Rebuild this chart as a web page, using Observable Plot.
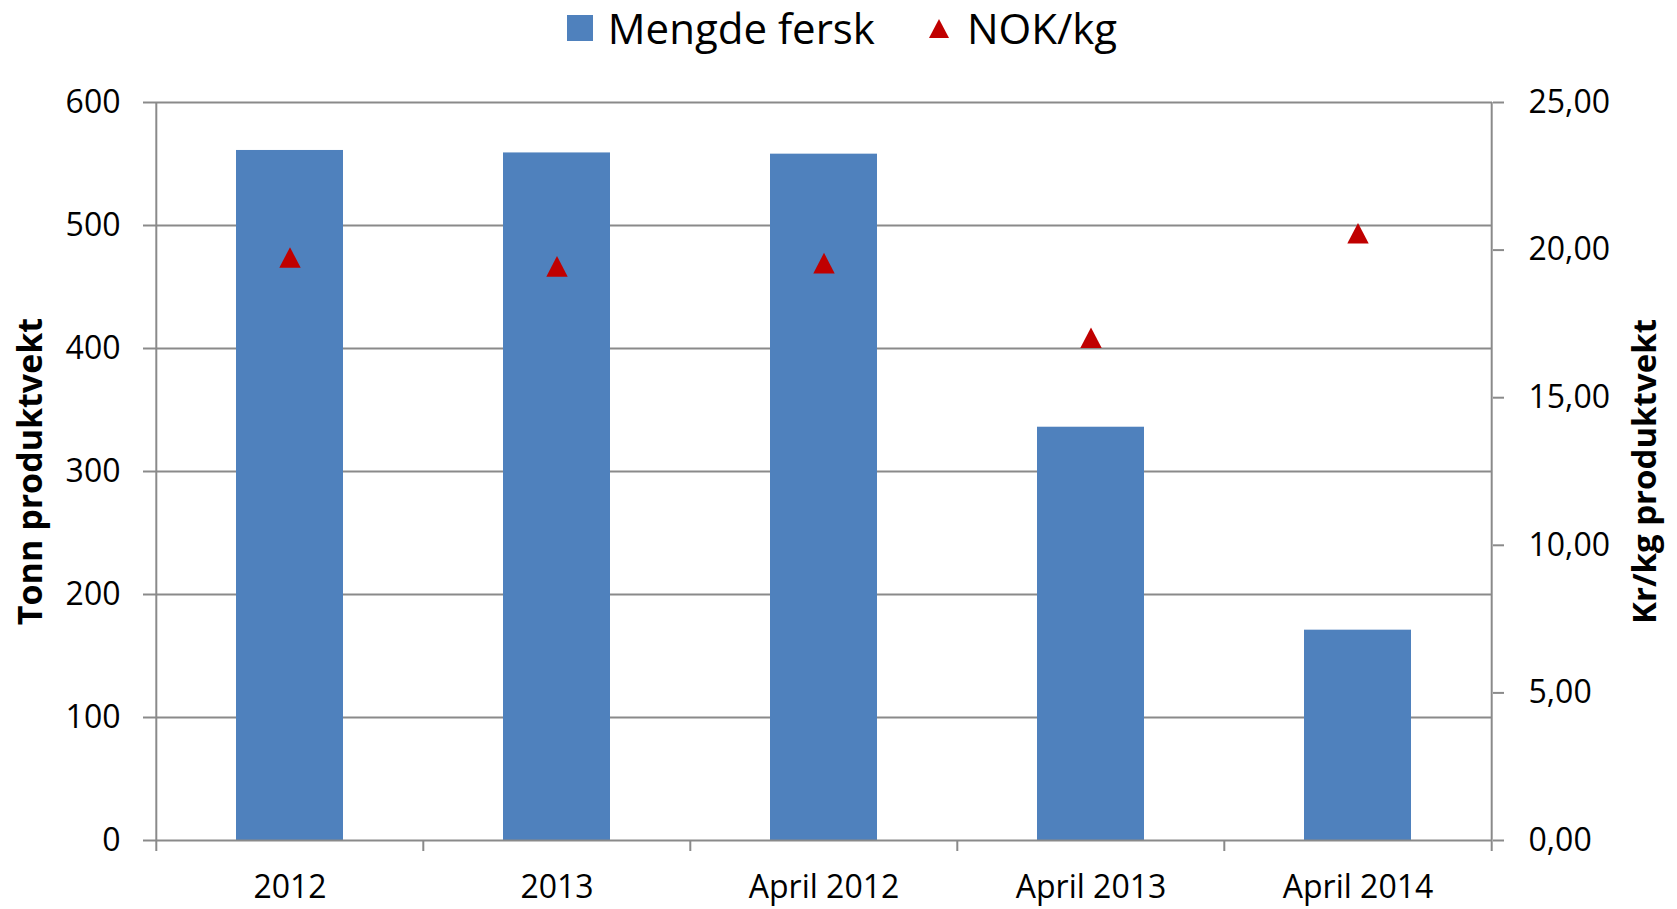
<!DOCTYPE html>
<html>
<head>
<meta charset="utf-8">
<script src="https://cdn.jsdelivr.net/npm/d3@7"></script>
<script src="https://cdn.jsdelivr.net/npm/@observablehq/plot@0.6"></script>
<style>
  html, body { margin: 0; padding: 0; background: #fff; }
  #legend { height: 56px; display: flex; justify-content: center; align-items: center; padding-left: 7px;
    font-family: "Open Sans", sans-serif; font-size: 42px; color: #000; line-height: 1; }
  #legend .sw { width: 26px; height: 26px; background: #4f81bd; margin-right: 15px; }
  #legend .tri { margin-left: 54px; margin-right: 18px; }
  svg { display: block; }
</style>
</head>
<body>
<div id="legend">
  <div class="sw"></div><span>Mengde fersk</span>
  <svg class="tri" width="20" height="19" viewBox="0 0 20 19"><polygon points="10,0 20,19 0,19" fill="#c00000"/></svg><span>NOK/kg</span>
</div>
<div id="chart"></div>
<script>
const categories = ["2012", "2013", "April 2012", "April 2013", "April 2014"];
const mengdeFersk = [561, 559, 558, 336, 171];
const nokPerKg = [19.75, 19.45, 19.56, 17.03, 20.57];
const leftTicks = [0, 100, 200, 300, 400, 500, 600];
const rightTicks = [0, 5, 10, 15, 20, 25];
const leftTitle = "Tonn produktvekt";
const rightTitle = "Kr/kg produktvekt";

const RATIO = 600 / 25;
const W = 1677, H = 853, ML = 155, MR = 185, MT = 46, MB = 69;
const step = (W - ML - MR) / categories.length;
const tickUnits = 11 * 600 / (H - MT - MB);
const GRID = "#8a8a8a";

const data = categories.map((c, i) => ({c, m: mengdeFersk[i], p: nokPerKg[i]}));

const triangle = {
  draw(context, size) {
    const r = Math.sqrt(size / Math.PI);
    context.moveTo(0, -r);
    context.lineTo(r * 1.04, r);
    context.lineTo(-r * 1.04, r);
    context.closePath();
  }
};

const chart = Plot.plot({
  width: W, height: H,
  marginTop: MT, marginBottom: MB, marginLeft: ML, marginRight: MR,
  style: {fontFamily: "'Open Sans', sans-serif", fontSize: "32px", color: "#000", background: "#fff", overflow: "visible"},
  x: {type: "band", domain: categories, paddingInner: 0.6, paddingOuter: 0.3, align: 0.5, axis: null},
  y: {domain: [0, 600], axis: null},
  marks: [
    Plot.ruleY(leftTicks.slice(1), {stroke: GRID, strokeWidth: 2}),
    Plot.barY(data, {x: "c", y: "m", fill: "#4f81bd"}),
    Plot.ruleY([0], {stroke: GRID, strokeWidth: 2}),
    Plot.ruleX([categories[0]], {x: d => d, dx: -step / 2, y1: -tickUnits, y2: 600, stroke: GRID, strokeWidth: 2}),
    Plot.ruleX([categories[categories.length - 1]], {x: d => d, dx: step / 2, y1: -tickUnits, y2: 600, stroke: GRID, strokeWidth: 2}),
    Plot.ruleX(categories.slice(1), {x: d => d, dx: -step / 2, y1: -tickUnits, y2: 0, stroke: GRID, strokeWidth: 2}),
    Plot.axisY(leftTicks, {anchor: "left", tickSize: 12, tickPadding: 23, stroke: GRID, strokeWidth: 2, fill: "#000", fontSize: 32, label: null}),
    Plot.axisY(rightTicks.map(v => v * RATIO), {anchor: "right", tickSize: 11, tickPadding: 25, stroke: GRID, strokeWidth: 2, fill: "#000", fontSize: 32, label: null,
      tickFormat: d => (d / RATIO).toFixed(2).replace(".", ",")}),
    Plot.axisX(categories, {anchor: "bottom", tickSize: 0, tickPadding: 35, fill: "#000", fontSize: 32, label: null}),
    Plot.dot(data, {x: "c", y: d => d.p * RATIO, symbol: triangle, r: 10.3, fill: "#c00000", stroke: "none"}),
    Plot.text([leftTitle], {text: d => d, frameAnchor: "left", dx: -124, rotate: -90, fontWeight: "bold", fontSize: 34, textAnchor: "middle", lineAnchor: "middle", fill: "#000"}),
    Plot.text([rightTitle], {text: d => d, frameAnchor: "right", dx: 153, rotate: -90, fontWeight: "bold", fontSize: 33, textAnchor: "middle", lineAnchor: "middle", fill: "#000"})
  ]
});
document.getElementById("chart").appendChild(chart);
</script>
</body>
</html>
